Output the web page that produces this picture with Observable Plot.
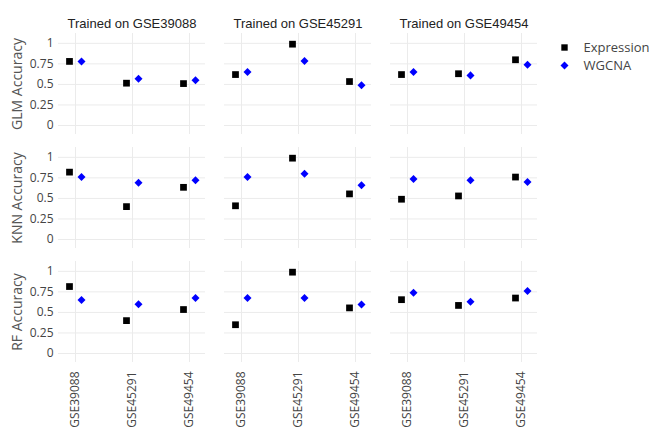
<!DOCTYPE html>
<html><head><meta charset="utf-8">
<script src="https://cdn.jsdelivr.net/npm/d3@7"></script>
<script src="https://cdn.jsdelivr.net/npm/@observablehq/plot@0.6"></script>
<style>body{margin:0;background:#fff}</style>
</head><body><div id="chart"></div>
<script>
const trainedOn = ["GSE39088", "GSE45291", "GSE49454"];
const testedOn = ["GSE39088", "GSE45291", "GSE49454"];
const models = ["GLM", "KNN", "RF"];
const series = ["Expression", "WGCNA"];
const yTicks = [0, 0.25, 0.5, 0.75, 1];

// values ordered: for each training set, the three test sets
const glmExpression = [0.78, 0.515, 0.51,  0.62, 0.99, 0.535,  0.62, 0.63, 0.80];
const glmWGCNA      = [0.78, 0.57, 0.55,   0.65, 0.785, 0.49,  0.65, 0.61, 0.74];
const knnExpression = [0.82, 0.40, 0.635,  0.41, 0.99, 0.555,  0.49, 0.53, 0.76];
const knnWGCNA      = [0.76, 0.69, 0.72,   0.76, 0.80, 0.66,   0.735, 0.72, 0.70];
const rfExpression  = [0.815, 0.40, 0.535, 0.35, 0.99, 0.555,  0.655, 0.585, 0.675];
const rfWGCNA       = [0.65, 0.60, 0.675,  0.675, 0.675, 0.595, 0.74, 0.63, 0.76];

const valuesBy = {
  GLM: {Expression: glmExpression, WGCNA: glmWGCNA},
  KNN: {Expression: knnExpression, WGCNA: knnWGCNA},
  RF: {Expression: rfExpression, WGCNA: rfWGCNA}
};
const rows = [];
models.forEach(m => series.forEach(s => valuesBy[m][s].forEach((v, i) => rows.push({
  model: m, series: s, train: trainedOn[Math.floor(i / 3)], test: testedOn[i % 3], acc: v
}))));

const diamond = {draw(ctx, size) {
  const h = Math.sqrt(size / 2);
  ctx.moveTo(0, -h); ctx.lineTo(h, 0); ctx.lineTo(0, h); ctx.lineTo(-h, 0); ctx.closePath();
}};

const grid = "#ebebeb";
const chart = Plot.plot({
  width: 649, height: 431,
  marginLeft: 58, marginRight: 112, marginTop: 32, marginBottom: 68,
  style: {fontFamily: "'Open Sans', sans-serif", fontSize: "12px", color: "#444", background: "#fff"},
  fx: {domain: trainedOn, paddingInner: 0.115, paddingOuter: 0},
  fy: {domain: models, paddingInner: 0.11, paddingOuter: 0, axis: null},
  x: {domain: testedOn, padding: 0.27},
  y: {domain: [-0.11, 1.12]},
  marks: [
    Plot.gridY({ticks: yTicks, stroke: grid, strokeOpacity: 1}),
    Plot.gridX({stroke: grid, strokeOpacity: 1}),
    Plot.axisX({anchor: "bottom", tickRotate: -90, tickSize: 0, tickPadding: 9, label: null, fill: "#444"}),
    Plot.axisY({anchor: "left", ticks: yTicks, tickFormat: d => String(d), tickSize: 0, tickPadding: 5, label: null, fill: "#444"}),
    Plot.axisFx({anchor: "top", label: null, tickSize: 0, tickPadding: 6, tickFormat: d => "Trained on " + d,
      fontSize: 13, fontFamily: "'Liberation Sans', Arial, sans-serif", fill: "#222"}),
    Plot.text(models, {fx: () => trainedOn[0], fy: d => d, text: d => d + " Accuracy", frameAnchor: "left",
      textAnchor: "middle", lineAnchor: "middle", rotate: -90, dx: -41, fontSize: 14, fill: "#555"}),
    Plot.dot(rows.filter(d => d.series === "Expression"), {x: "test", y: "acc", fx: "train", fy: "model",
      symbol: "square", fill: "#000", r: 3.8, dx: -6}),
    Plot.dot(rows.filter(d => d.series === "WGCNA"), {x: "test", y: "acc", fx: "train", fy: "model",
      symbol: diamond, fill: "#0000ff", r: 3.2, dx: 6}),
    // legend
    Plot.dot([series[0]], {fx: () => trainedOn[2], fy: () => models[0], frameAnchor: "top-right",
      dx: 27, dy: 14, symbol: "square", fill: "#000", r: 3.6}),
    Plot.dot([series[1]], {fx: () => trainedOn[2], fy: () => models[0], frameAnchor: "top-right",
      dx: 27, dy: 32, symbol: diamond, fill: "#0000ff", r: 3.2}),
    Plot.text([series[0]], {fx: () => trainedOn[2], fy: () => models[0], frameAnchor: "top-right",
      dx: 46, dy: 14, text: d => d, textAnchor: "start", lineAnchor: "middle", fontSize: 13, fill: "#444"}),
    Plot.text([series[1]], {fx: () => trainedOn[2], fy: () => models[0], frameAnchor: "top-right",
      dx: 46, dy: 32, text: d => d, textAnchor: "start", lineAnchor: "middle", fontSize: 13, fill: "#444"})
  ]
});
document.getElementById("chart").append(chart);
</script>
</body></html>
